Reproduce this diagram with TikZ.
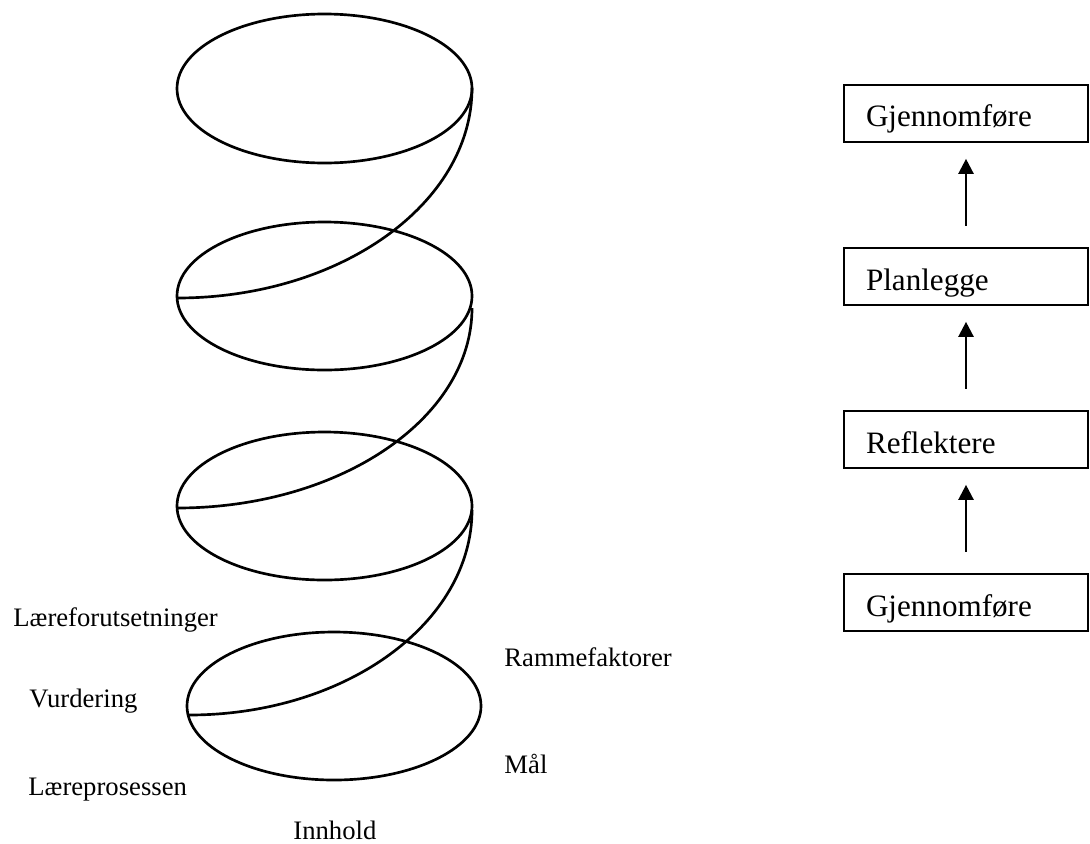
\documentclass[tikz,border=0pt]{standalone}
\usepackage{fontspec}
\setmainfont{Liberation Serif}
\usetikzlibrary{arrows.meta,positioning}

\begin{document}
\begin{tikzpicture}[x=0.45pt,y=-0.45pt,
  >={Triangle[length=6.8pt,width=6.8pt]},
  helix/.style={line width=1.2pt},
  lbl/.style={anchor=base west,inner sep=0pt,font=\fontsize{12}{14}\selectfont},
  stepbox/.style={draw,line width=0.75pt,text width=90pt,inner xsep=9.9pt,
    inner ysep=0pt,text height=18.9pt,text depth=6.75pt,align=left,
    font=\fontsize{14}{16}\selectfont},
  steparrow/.style={->,line width=1.1pt,shorten <=9.7pt,shorten >=7.2pt},
  node distance=46.95pt]
\useasboundingbox (0,0) rectangle (1090,843);
% spiral
\draw[helix] (324.5,88.5) ellipse[x radius=147.5,y radius=74.5];
\draw[helix] (324.5,296) ellipse[x radius=147.5,y radius=74];
\draw[helix] (324.5,506) ellipse[x radius=147.5,y radius=74];
\draw[helix] (334,706) ellipse[x radius=147,y radius=74];
\draw[helix] (472,88) arc[start angle=0,end angle=90,x radius=295,y radius=210];
\draw[helix] (472,308) arc[start angle=0,end angle=90,x radius=295,y radius=200];
\draw[helix] (472,510) arc[start angle=0,end angle=90,x radius=283,y radius=205];
% labels
\node[lbl] (lforut) at (13,626) {Læreforutsetninger};
\node[lbl] (vurd) at (29,707) {Vurdering};
\node[lbl] (lprosess) at (28,795) {Læreprosessen};
\node[lbl] (ramme) at (504,666) {Rammefaktorer};
\node[lbl] (maal) at (504,773) {Mål};
\node[lbl] (innh) at (293,839) {Innhold};
% steps
\node[stepbox] (gjenb) at (966,602.5) {Gjennomføre};
\node[stepbox,above=of gjenb] (refl) {Reflektere};
\node[stepbox,above=of refl] (plan) {Planlegge};
\node[stepbox,above=of plan] (gjent) {Gjennomføre};
\draw[steparrow] (gjenb) -- (refl);
\draw[steparrow] (refl) -- (plan);
\draw[steparrow] (plan) -- (gjent);
\end{tikzpicture}
\end{document}
